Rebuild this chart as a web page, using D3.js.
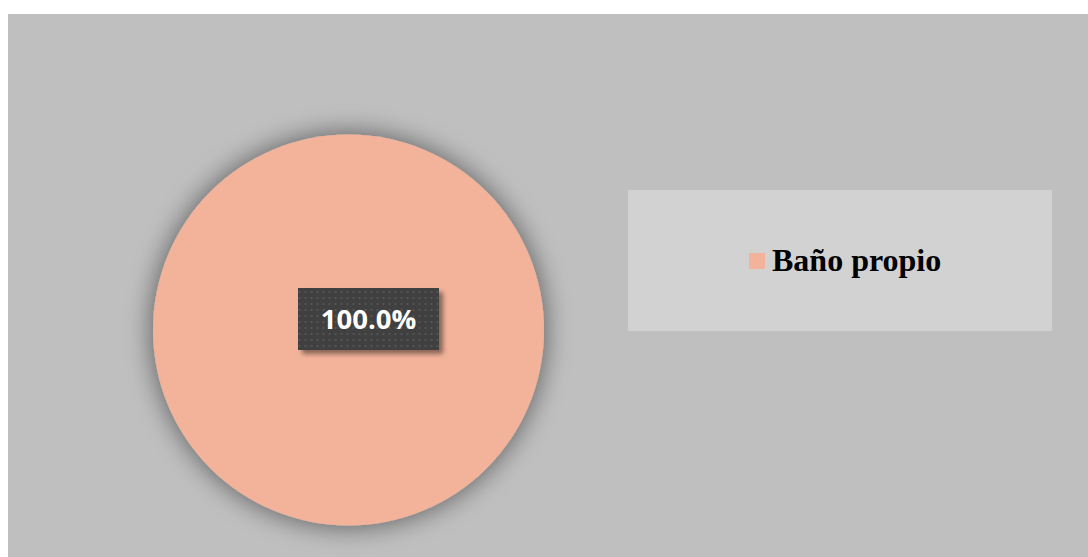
<!DOCTYPE html>
<html>
<head>
<meta charset="utf-8">
<script src="https://cdn.jsdelivr.net/npm/d3@7"></script>
<style>
  html, body { margin: 0; padding: 0; background: #ffffff; }
  svg { display: block; }
</style>
</head>
<body>
<svg id="chart" width="1088" height="557"></svg>
<script>
// Data
const categories = ["Baño propio"];
const values = [100];
const colors = ["#F3B39A"];

const svg = d3.select("#chart");
const W = 1088, H = 557;

const defs = svg.append("defs");

// soft shadow behind the pie
const pieShadow = defs.append("filter").attr("id", "pieShadow")
  .attr("x", "-25%").attr("y", "-25%").attr("width", "150%").attr("height", "150%");
pieShadow.append("feGaussianBlur").attr("in", "SourceAlpha").attr("stdDeviation", 14).attr("result", "b");
pieShadow.append("feComponentTransfer").attr("in", "b").attr("result", "s")
  .append("feFuncA").attr("type", "linear").attr("slope", 0.55);
const m1 = pieShadow.append("feMerge");
m1.append("feMergeNode").attr("in", "s");
m1.append("feMergeNode").attr("in", "SourceGraphic");

// shadow for the data label box
const labShadow = defs.append("filter").attr("id", "labShadow")
  .attr("x", "-20%").attr("y", "-30%").attr("width", "150%").attr("height", "170%");
labShadow.append("feGaussianBlur").attr("in", "SourceAlpha").attr("stdDeviation", 2.5).attr("result", "b");
labShadow.append("feOffset").attr("in", "b").attr("dx", 4).attr("dy", 4).attr("result", "o");
labShadow.append("feComponentTransfer").attr("in", "o").attr("result", "s")
  .append("feFuncA").attr("type", "linear").attr("slope", 0.45);
const m2 = labShadow.append("feMerge");
m2.append("feMergeNode").attr("in", "s");
m2.append("feMergeNode").attr("in", "SourceGraphic");

// dotted pattern of the label box
const pat = defs.append("pattern").attr("id", "dots")
  .attr("width", 6).attr("height", 6).attr("patternUnits", "userSpaceOnUse");
pat.append("rect").attr("width", 6).attr("height", 6).attr("fill", "#3f3f3f");
pat.append("rect").attr("x", 2).attr("y", 2).attr("width", 2).attr("height", 2).attr("fill", "#555555");

// chart area background
svg.append("rect")
  .attr("x", 8).attr("y", 14)
  .attr("width", W - 8).attr("height", H - 14)
  .attr("fill", "#bfbfbf");

// pie
const cx = 348.5, cy = 330, r = 195.5;
const pie = d3.pie().sort(null).value(d => d)(values);
const arc = d3.arc().innerRadius(0).outerRadius(r);

const g = svg.append("g").attr("transform", `translate(${cx},${cy})`);
g.selectAll("path.slice")
  .data(pie)
  .join("path")
  .attr("class", "slice")
  .attr("d", arc)
  .attr("fill", (d, i) => colors[i])
  .attr("filter", "url(#pieShadow)");

// data labels
const total = d3.sum(values);
const fmt = v => (v / total * 100).toFixed(1) + "%";
const labelW = 141, labelH = 62;
const lab = g.selectAll("g.lab")
  .data(pie)
  .join("g")
  .attr("class", "lab")
  .attr("transform", d => {
    const c = values.length === 1 ? [0, 0] : arc.centroid(d);
    return `translate(${c[0] + 20},${c[1] - 11})`;
  });
lab.append("rect")
  .attr("x", -labelW / 2).attr("y", -labelH / 2)
  .attr("width", labelW).attr("height", labelH)
  .attr("fill", "url(#dots)")
  .attr("filter", "url(#labShadow)");
lab.append("text")
  .attr("text-anchor", "middle")
  .attr("dy", "0.36em")
  .attr("fill", "#ffffff")
  .style("font-family", "'Open Sans', 'Noto Sans', sans-serif")
  .style("font-weight", "700")
  .style("font-size", "27.5px")
  .text(d => fmt(d.data));

// legend
const lg = svg.append("g");
lg.append("rect")
  .attr("x", 628).attr("y", 190)
  .attr("width", 424).attr("height", 141)
  .attr("fill", "#d2d2d2");
const items = lg.selectAll("g.item")
  .data(categories)
  .join("g")
  .attr("class", "item")
  .attr("transform", (d, i) => `translate(749,${253 + i * 40})`);
items.append("rect")
  .attr("width", 16).attr("height", 16)
  .attr("fill", (d, i) => colors[i]);
items.append("text")
  .attr("x", 23).attr("y", 18)
  .attr("fill", "#000000")
  .style("font-family", "'Liberation Serif', 'Times New Roman', serif")
  .style("font-weight", "700")
  .style("font-size", "32px")
  .text(d => d);
</script>
</body>
</html>
